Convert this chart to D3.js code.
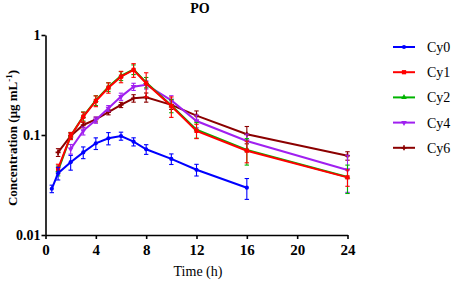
<!DOCTYPE html>
<html>
<head>
<meta charset="utf-8">
<script src="https://cdn.jsdelivr.net/npm/d3@7"></script>
<style>
  body { margin: 0; background: #fff; }
  text { font-family: "Liberation Serif", "Times New Roman", serif; }
</style>
</head>
<body>
<script>
// data (mean and SD per time point)
var timesCy0 = [0.5, 1, 2, 3, 4, 5, 6, 7, 8, 10, 12, 16];
var cy0 = [0.029, 0.0415, 0.0535, 0.067, 0.0826, 0.0927, 0.0977, 0.0857, 0.072, 0.0577, 0.0449, 0.0297];
var cy0Sd = [0.0025, 0.006, 0.009, 0.009, 0.011, 0.013, 0.009, 0.008, 0.008, 0.007, 0.006, 0.007];

var timesAll = [1, 2, 3, 4, 5, 6, 7, 8, 10, 12, 16, 24];
var cy1 = [0.046, 0.098, 0.152, 0.219, 0.297, 0.383, 0.447, 0.329, 0.195, 0.11, 0.0697, 0.0377];
var cy1Sd = [0.005, 0.008, 0.017, 0.027, 0.035, 0.05, 0.07, 0.09, 0.045, 0.018, 0.017, 0.007];

var cy2 = [0.044, 0.098, 0.154, 0.222, 0.303, 0.39, 0.452, 0.336, 0.197, 0.113, 0.071, 0.038];
var cy2Sd = [0.005, 0.008, 0.016, 0.025, 0.03, 0.04, 0.05, 0.04, 0.03, 0.02, 0.021, 0.012];

var timesCy4 = [2, 3, 4, 5, 6, 7, 8, 10, 12, 16, 24];
var cy4 = [0.0724, 0.11, 0.141, 0.185, 0.242, 0.304, 0.318, 0.222, 0.138, 0.087, 0.0447];
var cy4Sd = [0.008, 0.01, 0.01, 0.012, 0.02, 0.025, 0.03, 0.025, 0.02, 0.015, 0.018];

var cy6 = [0.067, 0.098, 0.126, 0.143, 0.169, 0.2, 0.233, 0.238, 0.2, 0.156, 0.1016, 0.062];
var cy6Sd = [0.006, 0.006, 0.008, 0.008, 0.01, 0.012, 0.02, 0.025, 0.02, 0.018, 0.02, 0.006];

var xTicks = [0, 4, 8, 12, 16, 20, 24];
var yTicks = [0.01, 0.1, 1];

var series = [
  {name: "Cy0", t: timesCy0, v: cy0, sd: cy0Sd, color: "#0000ff", symbol: d3.symbolCircle, size: 14},
  {name: "Cy1", t: timesAll, v: cy1, sd: cy1Sd, color: "#ff0000", symbol: d3.symbolSquare, size: 18},
  {name: "Cy2", t: timesAll, v: cy2, sd: cy2Sd, color: "#00b400", symbol: d3.symbolTriangle, size: 14},
  {name: "Cy4", t: timesCy4, v: cy4, sd: cy4Sd, color: "#a020f0", symbol: d3.symbolTriangle, size: 14, rot: 180},
  {name: "Cy6", t: timesAll, v: cy6, sd: cy6Sd, color: "#8b0000", symbol: d3.symbolCross, size: 14}
];

var width = 454, height = 282;

var svg = d3.select("body")
            .append("svg")
            .attr("width", width)
            .attr("height", height);

// scales
var x = d3.scaleLinear().domain([0, 24]).range([45.5, 347.5]);
var y = d3.scaleLog().domain([0.01, 1]).range([235, 35]);

// title
svg.append("text")
   .attr("x", 200)
   .attr("y", 13)
   .attr("text-anchor", "middle")
   .style("font-size", "14px")
   .style("font-weight", "bold")
   .text("PO");

// axes
var xAxis = svg.append("g")
   .attr("transform", "translate(0," + 235 + ")")
   .call(d3.axisBottom(x).tickValues(xTicks).tickSize(4).tickSizeOuter(0));

var yAxis = svg.append("g")
   .attr("transform", "translate(" + 45.5 + ",0)")
   .call(d3.axisLeft(y).tickValues(yTicks).tickFormat(d3.format("")).tickSize(4).tickSizeOuter(0));

[xAxis, yAxis].forEach(function(a){
  a.attr("font-family", null);
  a.selectAll("path, line").attr("stroke", "#000").attr("stroke-width", 1.6);
  a.selectAll("text")
   .style("font-weight", "bold")
   .attr("fill", "#000");
});
xAxis.selectAll("text").style("font-size", "15px").attr("dy", "0.85em");
yAxis.selectAll("text").style("font-size", "14px").attr("x", -5);

// axis titles
svg.append("text")
   .attr("x", 198)
   .attr("y", 276)
   .attr("text-anchor", "middle")
   .style("font-size", "14px")
   .text("Time (h)");

var yLabel = svg.append("text")
   .attr("transform", "translate(17,138)rotate(-90)")
   .attr("text-anchor", "middle")
   .style("font-size", "13px")
   .style("font-weight", "bold");
yLabel.append("tspan").text("Concentration (μg mL");
yLabel.append("tspan").attr("dy", -5).style("font-size", "9px").text("-1");
yLabel.append("tspan").attr("dy", 5).text(")");

var line = d3.line()
             .x(function(d){ return x(d.t); })
             .y(function(d){ return y(d.v); });

// draw last series first so Cy0 ends up on top
series.slice().reverse().forEach(function(s){
  var pts = s.t.map(function(t, i){ return {t: t, v: s.v[i], sd: s.sd[i]}; });
  var g = svg.append("g");

  // error bars
  pts.forEach(function(p){
    var lo = Math.max(p.v - p.sd, 0.011), hi = p.v + p.sd;
    g.append("line")
     .attr("x1", x(p.t)).attr("x2", x(p.t))
     .attr("y1", y(lo)).attr("y2", y(hi))
     .attr("stroke", s.color).attr("stroke-width", 1.1);
    [lo, hi].forEach(function(e){
      g.append("line")
       .attr("x1", x(p.t) - 2.2).attr("x2", x(p.t) + 2.2)
       .attr("y1", y(e)).attr("y2", y(e))
       .attr("stroke", s.color).attr("stroke-width", 1.1);
    });
  });

  g.append("path")
   .datum(pts)
   .attr("d", line)
   .attr("fill", "none")
   .attr("stroke", s.color)
   .attr("stroke-width", 2);

  g.selectAll(".pt")
   .data(pts)
   .enter().append("path")
   .attr("d", d3.symbol().type(s.symbol).size(s.size))
   .attr("transform", function(d){
     return "translate(" + x(d.t) + "," + y(d.v) + ")" + (s.rot ? "rotate(" + s.rot + ")" : "");
   })
   .attr("fill", s.color);
});

// legend
var legend = svg.append("g");
series.forEach(function(s, i){
  var ly = 47 + i * 25.2;
  legend.append("line")
        .attr("x1", 393).attr("x2", 415)
        .attr("y1", ly).attr("y2", ly)
        .attr("stroke", s.color).attr("stroke-width", 2);
  legend.append("path")
        .attr("d", d3.symbol().type(s.symbol).size(s.size))
        .attr("transform", "translate(404," + ly + ")" + (s.rot ? "rotate(" + s.rot + ")" : ""))
        .attr("fill", s.color);
  legend.append("text")
        .attr("x", 427)
        .attr("y", ly + 5)
        .style("font-size", "14px")
        .text(s.name);
});
</script>
</body>
</html>
